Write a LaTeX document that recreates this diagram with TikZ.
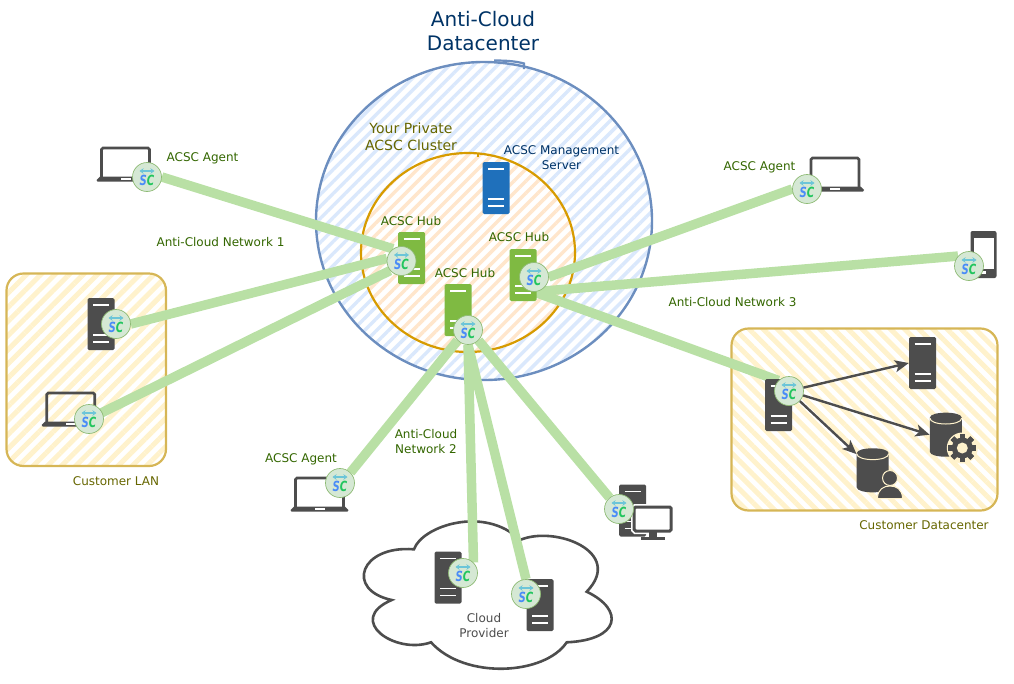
\documentclass[tikz,border=0pt]{standalone}
\usepackage{fontspec}
\usepackage{graphicx}
\setmainfont{DejaVu Sans}
\usetikzlibrary{arrows.meta,patterns.meta,calc}

% Colors define
\definecolor{myTitle}{HTML}{003366}
\definecolor{myOlive}{HTML}{666600}
\definecolor{myLeaf}{HTML}{336600}
\definecolor{myGrey}{HTML}{4D4D4D}
\definecolor{myBlue}{HTML}{6C8EBF}
\definecolor{myBlueLt}{HTML}{DAE8FC}
\definecolor{myOrange}{HTML}{D79B00}
\definecolor{myOrangeLt}{HTML}{FFE6CC}
\definecolor{myYellow}{HTML}{D6B656}
\definecolor{myYellowLt}{HTML}{FFF2CC}
\definecolor{myLink}{HTML}{B9E0A5}
\definecolor{myBadge}{HTML}{D5E8D4}
\definecolor{myBadgeEdge}{HTML}{8FBB76}
\definecolor{myHub}{HTML}{7FBA42}
\definecolor{myMgmt}{HTML}{1F70BB}
\definecolor{myS}{HTML}{4A8CF7}
\definecolor{myC}{HTML}{22C55E}
\definecolor{myArrow}{HTML}{6CC5D8}

\pgfdeclarelayer{regions}
\pgfdeclarelayer{links}
\pgfsetlayers{regions,links,main}

\tikzset{
  txt/.style={inner sep=0pt,align=center,yshift=-0.7pt,font=\fontsize{12}{15}\selectfont},
  agentlbl/.style={txt,myLeaf},
  olivelbl/.style={txt,myOlive},
  serverbox/.style={rectangle,rounded corners=1.5pt,fill=myGrey,inner sep=0pt,
    minimum width=27pt,minimum height=52pt,
    path picture={
      \foreach \d in {7,37,44}
        \draw[white,line width=1.6pt] ([xshift=-8pt,yshift=-\d pt]path picture bounding box.north)
          -- ++(16pt,0pt);
    }},
  badge/.style={circle,draw=myBadgeEdge,line width=0.7pt,fill=myBadge,inner sep=0pt,
    minimum size=29pt,font=\fontsize{14}{14}\bfseries\itshape\selectfont,
    path picture={
      \draw[myArrow,line width=1.8pt,{Stealth[length=4pt,width=5.5pt]}-{Stealth[length=4pt,width=5.5pt]}]
        ([xshift=-7.5pt,yshift=6pt]path picture bounding box.center) -- ++(15pt,0pt);
    }},
  sc/.style={badge,node contents={\smash{\raisebox{-8.5pt}{\scalebox{0.72}[1]{\textcolor{myS}{S}\textcolor{myC}{C}}}}}},
  link/.style={myLink,line width=9.5pt},
  flow/.style={myGrey,line width=2.4pt,-{Stealth[length=14pt,width=12pt,inset=3.5pt]}},
  dbbox/.style={rectangle,inner sep=0pt,minimum width=32pt,minimum height=44pt},
  pics/dbicon/.style={code={
    \fill[myGrey] (-16,-17) .. controls (-16,-23.7) and (16,-23.7) .. (16,-17) -- (16,17)
      .. controls (16,23.7) and (-16,23.7) .. (-16,17) -- cycle;
    \draw[myYellowLt,line width=1pt] (-16,-16.7) .. controls (-16,-8.7) and (16,-8.7) .. (16,-16.7);
  }},
  pics/laptopicon/.style={code={
    \draw[myGrey,line width=2.6pt,rounded corners=1.5pt] (-24,29) -- (-24,0) -- (24,0) -- (24,29);
    \fill[myGrey] (-25.5,28.5) -- (25.5,28.5) -- (29,32) -- (28,33.5) -- (-28,33.5) -- (-29,32) -- cycle;
    \fill[white] (-5,29.5) rectangle (5,31.5);
  }},
  pics/gearicon/.style={code={
    \fill[myYellowLt] (0,0) circle[radius=15.5];
    \foreach \a in {0,45,...,135}
      \fill[myGrey,rotate=\a] (-2.6,-14) rectangle (2.6,14);
    \foreach \a in {0,45,...,135}
      \fill[myGrey,rotate=\a] (-14,-2.6) rectangle (14,2.6);
    \fill[myGrey] (0,0) circle[radius=10.5];
    \fill[myYellowLt] (0,0) circle[radius=5.5];
  }},
  pics/usericon/.style={code={
    \draw[myYellowLt,line width=1pt,fill=myGrey] (0,0) circle[radius=7.5];
    \draw[myYellowLt,line width=1pt,fill=myGrey] (-12.5,20.5) .. controls (-12.5,11) and (-6,8) .. (0,8)
      .. controls (6,8) and (12.5,11) .. (12.5,20.5) -- cycle;
  }},
  pics/monitoricon/.style={code={
    \draw[white,line width=5pt,rounded corners=1.5pt] (-19,-12.5) rectangle (19,12.5);
    \draw[myGrey,line width=3pt,rounded corners=1.5pt,fill=white] (-18.5,-12) rectangle (18.5,12);
    \fill[myGrey] (-4,13) rectangle (4,18);
    \fill[myGrey] (-12,18) rectangle (12,21);
  }},
  pics/phoneicon/.style={code={
    \fill[myGrey,rounded corners=2pt] (-13,-23.5) rectangle (13,23.5);
    \fill[white] (-10,-17) rectangle (10,14);
    \fill[white] (-2.5,16) rectangle (2.5,19);
  }}
}

\begin{document}
\begin{tikzpicture}[x=1pt,y=-1pt]
\useasboundingbox (0,0) rectangle (1014,683);

% Regions
\begin{pgfonlayer}{regions}
\fill[white] (484,221) ellipse[x radius=168,y radius=159];
\path[pattern={Lines[angle=45,distance=8.5pt,line width=3.4pt]},pattern color=myBlueLt] (484,221) ellipse[x radius=168,y radius=159];
\draw[myBlue,line width=2.4pt] (484,221) ellipse[x radius=168,y radius=159];
\draw[myBlue,line width=2.2pt] (494,60.5) .. controls (505,60.5) and (515,61) .. (524,63.5) -- (524,69);

\fill[white] (468,252.5) ellipse[x radius=107,y radius=99.5];
\path[pattern={Lines[angle=45,distance=8.5pt,line width=3.4pt]},pattern color=myOrangeLt] (468,252.5) ellipse[x radius=107,y radius=99.5];
\draw[myOrange,line width=2.2pt] (468,252.5) ellipse[x radius=107,y radius=99.5];
\draw[myOrange,line width=1.4pt] (478,154) -- (478,157);

\path[pattern={Lines[angle=45,distance=10pt,line width=5pt]},pattern color=myYellowLt] (6.5,273.5) [rounded corners=17pt] rectangle (166,466);
\draw[myYellow,line width=2.2pt,rounded corners=17pt] (6.5,273.5) rectangle (166,466);

\path[pattern={Lines[angle=-45,distance=10pt,line width=5pt]},pattern color=myYellowLt] (731.5,328.5) [rounded corners=17pt] rectangle (997.5,510.5);
\draw[myYellow,line width=2.2pt,rounded corners=17pt] (731.5,328.5) rectangle (997.5,510.5);

% Cloud
\draw[myGrey,line width=2.6pt,fill=white] (414,549.3)
  .. controls (422,526) and (485,505) .. (520,540)
  .. controls (555,525) and (625,552) .. (586.7,591.7)
  .. controls (625,610) and (620,640) .. (566.7,642.3)
  .. controls (545,675) and (465,680) .. (431,642.3)
  .. controls (395,655) and (345,620) .. (391.7,600)
  .. controls (345,590) and (360,545) .. cycle;
\end{pgfonlayer}

% Titles and labels
\node[txt,myTitle,font=\fontsize{20}{24}\selectfont] (titleLbl) at (483,30) {Anti-Cloud\\Datacenter};
\node[olivelbl,font=\fontsize{14}{17}\selectfont] (clusterLbl) at (411,136.5) {Your Private\\ACSC Cluster};
\node[txt,myTitle] (mgmtLbl) at (561.5,156.5) {ACSC Management\\Server};
\node[agentlbl] (hubLblL) at (411,220) {ACSC Hub};
\node[agentlbl] (hubLblR) at (519,236.5) {ACSC Hub};
\node[agentlbl] (hubLblM) at (465,272) {ACSC Hub};
\node[agentlbl] (agentLblL) at (202.5,157.5) {ACSC Agent};
\node[agentlbl] (agentLblR) at (759.5,166.5) {ACSC Agent};
\node[agentlbl] (agentLblB) at (301,458.5) {ACSC Agent};
\node[agentlbl] (netLblA) at (220.5,241.5) {Anti-Cloud Network 1};
\node[agentlbl] (netLblB) at (426,440.5) {Anti-Cloud\\Network 2};
\node[agentlbl] (netLblC) at (732.5,301.5) {Anti-Cloud Network 3};
\node[olivelbl] (lanLbl) at (116,480.5) {Customer LAN};
\node[olivelbl] (dcLbl) at (924,524.5) {Customer Datacenter};
\node[txt,myGrey] (cloudLbl) at (484,625) {Cloud\\Provider};

% Servers
\node[serverbox,fill=myMgmt] (mgmtSrv) at (496,188) {};
\node[serverbox,fill=myHub] (hubSrvL) at (411.5,258) {};
\node[serverbox,fill=myHub] (hubSrvR) at (523,275) {};
\node[serverbox,fill=myHub] (hubSrvM) at (458,310) {};
\node[serverbox] (lanSrv) at (101,324) {};
\node[serverbox] (dcSrv) at (778.7,405) {};
\node[serverbox] (dcSrvB) at (922.5,363) {};
\node[serverbox] (cloudSrvA) at (448,577.5) {};
\node[serverbox] (cloudSrvB) at (540,605) {};
\node[serverbox] (deskSrv) at (632.7,510.5) {};

% Other devices
\pic at (125.5,148) {laptopicon};
\pic at (835,158) {laptopicon};
\pic at (70.7,393) {laptopicon};
\pic at (319.5,478) {laptopicon};
\pic at (652.7,519) {monitoricon};
\pic at (983.5,254.5) {phoneicon};

% Databases
\node[dbbox] (dbGear) at (945.8,434.7) {};
\node[dbbox] (dbUser) at (872.7,470.3) {};
\pic at (dbGear) {dbicon};
\pic at (dbUser) {dbicon};
\pic at (962.3,448) {gearicon};
\pic at (890,478) {usericon};

% Badges
\node (hubL) at (401.5,261) [sc];
\node (hubR) at (534,277) [sc];
\node (hubM) at (468,330) [sc];
\node (agentL) at (147,177) [sc];
\node (agentR) at (807,189) [sc];
\node (agentB) at (340,483) [sc];
\node (lanA) at (116,324) [sc];
\node (lanB) at (89,419) [sc];
\node (cloudA) at (463,573) [sc];
\node (cloudB) at (526,594) [sc];
\node (deskB) at (619,509) [sc];
\node (dcB) at (789,391) [sc];
\node (phoneB) at (969,266) [sc];

% Thick links
\begin{pgfonlayer}{links}
\foreach \a/\b in {agentL.east/hubL.125, lanA.east/hubL.170, lanB.center/hubL.220,
    hubM.225/agentB.45, hubM.south/cloudA.45, hubM.south/cloudB.north, hubM.-45/deskB.130,
    hubR.east/agentR.west, hubR.south/phoneB.138, hubR.south/dcB.135}
  \draw[link] (\a) -- (\b);
\end{pgfonlayer}

% Arrows in the datacenter
\draw[flow] (dcB) -- (dcSrvB.west);
\draw[flow] (dcB) -- (dbGear.west);
\draw[flow] (dcB) -- (dbUser.135);
\end{tikzpicture}
\end{document}
